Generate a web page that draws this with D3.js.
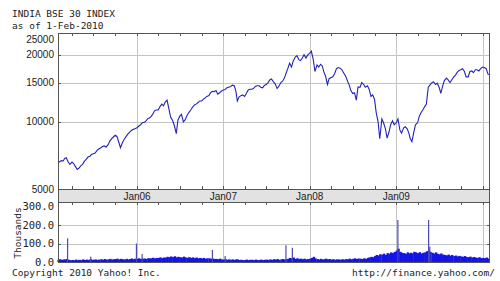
<!DOCTYPE html>
<html><head><meta charset="utf-8">
<script src="https://cdn.jsdelivr.net/npm/d3@7"></script>
<style>body{margin:0;background:#fff}svg{display:block}</style>
</head><body>
<svg id="c" width="500" height="281"></svg>
<script>
// ---- data ----
const months = ["2005-02","2005-03","2005-04","2005-05","2005-06","2005-07","2005-08","2005-09","2005-10","2005-11","2005-12",
"2006-01","2006-02","2006-03","2006-04","2006-05","2006-06","2006-07","2006-08","2006-09","2006-10","2006-11","2006-12",
"2007-01","2007-02","2007-03","2007-04","2007-05","2007-06","2007-07","2007-08","2007-09","2007-10","2007-11","2007-12",
"2008-01","2008-02","2008-03","2008-04","2008-05","2008-06","2008-07","2008-08","2008-09","2008-10","2008-11","2008-12",
"2009-01","2009-02","2009-03","2009-04","2009-05","2009-06","2009-07","2009-08","2009-09","2009-10","2009-11","2009-12",
"2010-01"];
const weekDays = [1, 8, 16, 23];
const sensex = [
[6550,6620,6700,6680],[6850,6900,6600,6450],[6600,6500,6300,6120],[6200,6350,6450,6650],[6800,6950,7000,7150],
[7200,7250,7450,7550],[7650,7750,7800,7700],[7900,8200,8400,8550],[8700,8600,8100,7650],[8100,8350,8600,8800],[9000,9150,9250,9300],
[9400,9550,9700,9900],[9950,10100,10350,10400],[10550,10800,11200,11300],[11300,11700,12000,11800],[12300,12500,11400,10500],
[10100,9600,8850,10200],[10600,10800,10000,10200],[10700,11000,11300,11600],[11900,12000,12200,12400],[12400,12600,12800,13000],
[13100,13500,13700,13650],[13800,13300,13500,13700],
[13900,13950,14200,14300],[14400,14600,14500,13700],[12400,12900,13100,13200],[13000,13400,13900,14000],[14000,14100,14400,14500],
[14500,14300,14200,14550],[14700,14950,15400,15550],[15100,14800,14100,14400],[15000,15200,15700,16500],[17400,18300,17600,18700],
[19500,19800,19000,18800],[19300,20000,19300,19900],
[20300,20700,19000,16800],[18000,17600,18100,17800],[16700,16000,14700,15600],[15800,15900,16500,17300],[17500,17400,17100,16600],
[16000,15300,14600,13800],[13400,13500,12500,14300],[14300,15000,14700,14300],[14500,14000,13000,13200],[12600,11000,10000,8400],
[10300,9900,9300,8450],[9000,9700,10100,9700],
[9900,10300,9200,8900],[9400,9500,9300,8900],[8400,8150,9000,9700],[9900,10600,11000,11300],[11700,12000,14300,14600],
[15000,15100,14700,14900],[14300,13400,14500,15300],[15700,15400,15000,15400],[15900,16200,16700,17000],[17100,17300,16800,15900],
[15900,16800,16900,16600],[17100,17100,16900,17300],
[17600,17500,17300,16400]];
const lastDate = "2010-02-01", lastValue = 16200;
// volume, thousands
const volume = [
[12,15,11,14],[13,16,12,10],[11,9,13,10],[12,10,14,11],[13,11,15,12],[12,14,11,13],[15,12,16,13],[14,17,13,15],[16,18,14,17],[15,13,17,14],[16,19,15,18],
[17,20,16,18],[19,16,21,18],[20,23,19,22],[22,25,21,24],[24,28,26,30],[27,31,25,28],[26,24,29,25],[23,26,22,25],[21,24,20,22],[19,22,18,20],[20,17,19,16],[17,15,18,14],
[13,15,12,14],[12,14,11,15],[13,11,12,10],[11,13,10,12],[12,10,13,11],[11,13,10,12],[13,11,14,12],[15,13,16,12],[14,16,13,15],[18,22,19,24],[17,20,16,18],[15,18,14,16],
[18,22,28,20],[16,14,17,13],[15,18,14,16],[13,15,12,14],[14,12,15,13],[16,14,18,15],[17,20,16,19],[18,16,20,17],[22,25,28,26],[32,38,35,42],[40,45,38,48],[45,52,48,55],
[62,72,55,50],[48,44,52,46],[50,47,55,52],[48,53,46,50],[52,58,62,55],[50,46,52,44],[42,46,40,38],[36,40,34,38],[32,35,30,33],[30,28,32,27],[26,29,24,27],[24,22,26,21],
[22,20,24,19]];
const spikeDates = ["2005-03-11","2005-06-17","2005-12-27","2006-01-20","2006-11-13","2007-01-06","2007-09-20","2007-10-17","2009-01-05","2009-05-15","2009-05-20"];
const spikeValues = [128,29,100,43,65,32,90,77,227,227,83];
const priceTicks = [5000,10000,15000,20000,25000];
const volTicks = [0,100,200,300];
const yearTicks = ["2006-01-01","2007-01-01","2008-01-01","2009-01-01","2010-01-01"];
const yearLabels = ["Jan06","Jan07","Jan08","Jan09",""];

// ---- build ----
const parse = d3.timeParse("%Y-%m-%d");
const pts = [], vols = [];
months.forEach((m,i)=>weekDays.forEach((d,j)=>{
  const dt = parse(m + "-" + String(d).padStart(2,"0"));
  pts.push({date:dt, v:sensex[i][j]});
  vols.push({date:dt, v:volume[i][j]});
}));
pts.push({date:parse(lastDate), v:lastValue});

const L=58, R=490, T=33, B=189, BB=202, VB=262;
const x = d3.scaleTime().domain([parse("2005-02-01"), parse("2010-02-01")]).range([L,R]);
const y = d3.scaleLog().domain([5000,25000]).range([B,T]);
const yv = d3.scaleLinear().domain([0,300]).range([VB,206.5]);

const svg = d3.select("#c");
const grid = "#c4c4c4", frame = "#555";

// gray band
svg.append("rect").attr("x",L).attr("y",B).attr("width",R-L).attr("height",BB-B).attr("fill","#e2e2e2");

// gridlines main
svg.append("g").selectAll("line").data(priceTicks.slice(1,-1)).join("line")
  .attr("x1",L).attr("x2",R).attr("y1",d=>Math.round(y(d))+0.5).attr("y2",d=>Math.round(y(d))+0.5)
  .attr("stroke",grid);
const yrs = yearTicks.map(parse);
svg.append("g").selectAll("line").data(yrs).join("line")
  .attr("x1",d=>Math.round(x(d))+0.5).attr("x2",d=>Math.round(x(d))+0.5).attr("y1",T).attr("y2",B)
  .attr("stroke",grid);
// gridlines volume
svg.append("g").selectAll("line").data([100,200]).join("line")
  .attr("x1",L).attr("x2",R).attr("y1",d=>Math.round(yv(d))+0.5).attr("y2",d=>Math.round(yv(d))+0.5)
  .attr("stroke",grid);
svg.append("g").selectAll("line").data(yrs).join("line")
  .attr("x1",d=>Math.round(x(d))+0.5).attr("x2",d=>Math.round(x(d))+0.5).attr("y1",BB).attr("y2",VB)
  .attr("stroke",grid);

// volume bars
svg.append("g").selectAll("rect").data(vols).join("rect")
  .attr("x",d=>x(d.date)-0.6).attr("width",2.4)
  .attr("y",d=>yv(d.v)).attr("height",d=>yv(0)-yv(d.v)).attr("fill","#1414e6");
const spikes = spikeDates.map((s,i)=>({date:parse(s), v:spikeValues[i]}));
svg.append("g").selectAll("rect").data(spikes).join("rect")
  .attr("x",d=>x(d.date)).attr("width",1.2)
  .attr("y",d=>yv(d.v)).attr("height",d=>yv(0)-yv(d.v)).attr("fill","#4a4ab4");

// price line
svg.append("path").datum(pts)
  .attr("d", d3.line().x(d=>x(d.date)).y(d=>y(d.v)))
  .attr("fill","none").attr("stroke","#2323b8").attr("stroke-width",1.1);

// quarterly ticks
const quarters = d3.timeMonth.every(3).range(parse("2005-02-01"), parse("2010-02-02")).filter(d=>x(d)>L+1 && x(d)<R-1);
const tk = svg.append("g").attr("stroke",frame);
quarters.forEach(q=>{
  const xx = Math.round(x(q))+0.5;
  tk.append("line").attr("x1",xx).attr("x2",xx).attr("y1",T).attr("y2",T+3);
  tk.append("line").attr("x1",xx).attr("x2",xx).attr("y1",B).attr("y2",B-3);
  tk.append("line").attr("x1",xx).attr("x2",xx).attr("y1",BB).attr("y2",BB+3);
});
// left ticks
priceTicks.slice(1,-1).forEach(v=>{
  const yy=Math.round(y(v))+0.5;
  tk.append("line").attr("x1",L).attr("x2",L+3).attr("y1",yy).attr("y2",yy);
});
[100,200].forEach(v=>{
  const yy=Math.round(yv(v))+0.5;
  tk.append("line").attr("x1",L).attr("x2",L+3).attr("y1",yy).attr("y2",yy);
  tk.append("line").attr("x1",R-3).attr("x2",R).attr("y1",yy).attr("y2",yy);
});

// frames
const fr = svg.append("g").attr("fill","none").attr("stroke",frame);
fr.append("rect").attr("x",L+0.5).attr("y",T+0.5).attr("width",R-L-1).attr("height",VB-T);
fr.append("line").attr("x1",L).attr("x2",R).attr("y1",B+0.5).attr("y2",B+0.5);
fr.append("line").attr("x1",L).attr("x2",R).attr("y1",BB+0.5).attr("y2",BB+0.5);

// labels (top label kept inside the plot, as in the original)
const sans = "'Liberation Sans', Arial, sans-serif", mono = "'DejaVu Sans Mono', monospace";
svg.append("g").selectAll("text").data(priceTicks).join("text")
  .attr("x",54).attr("y",d=>Math.max(y(d)+3.5, T+10)).attr("text-anchor","end")
  .attr("font-family",sans).attr("font-size",10).attr("fill","#222").text(d=>d);
svg.append("g").selectAll("text").data(yrs).join("text")
  .attr("x",d=>x(d)).attr("y",BB-2.5).attr("text-anchor","middle")
  .attr("font-family",sans).attr("font-size",10).attr("fill","#222").text((d,i)=>yearLabels[i]);
svg.append("g").selectAll("text").data(volTicks).join("text")
  .attr("x",54).attr("y",d=>yv(d)+3.5).attr("text-anchor","end")
  .attr("font-family",mono).attr("font-size",10.5).attr("fill","#222").text(d=>d.toFixed(1));
svg.append("text").attr("transform","translate(21,233) rotate(-90)").attr("text-anchor","middle")
  .attr("font-family",mono).attr("font-size",9.5).attr("fill","#222").text("Thousands");

svg.append("text").attr("x",12).attr("y",17).attr("font-family",mono).attr("font-size",9.5).attr("fill","#222").text("INDIA BSE 30 INDEX");
svg.append("text").attr("x",12).attr("y",28.5).attr("font-family",mono).attr("font-size",9.5).attr("fill","#222").text("as of 1-Feb-2010");
svg.append("text").attr("x",12).attr("y",276).attr("font-family",mono).attr("font-size",9.5).attr("fill","#222").text("Copyright 2010 Yahoo! Inc.");
svg.append("text").attr("x",495).attr("y",276).attr("text-anchor","end").attr("font-family",mono).attr("font-size",9.5).attr("fill","#222").text("http://finance.yahoo.com/");
</script>
</body></html>
